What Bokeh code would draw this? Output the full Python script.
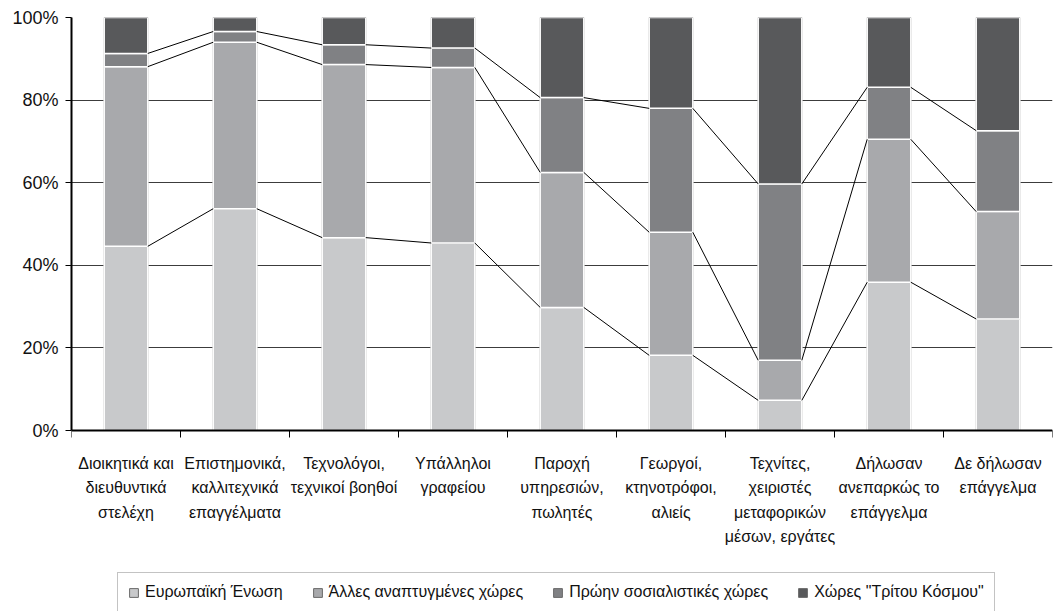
from bokeh.plotting import figure
from bokeh.models import Range1d, FixedTicker, PrintfTickFormatter, Legend, LegendItem, ColumnDataSource, Grid
from bokeh.core.properties import value
from bokeh.embed import file_html
from bokeh.resources import INLINE

categories = [
    "Διοικητικά και\nδιευθυντικά\nστελέχη",
    "Επιστημονικά,\nκαλλιτεχνικά\nεπαγγέλματα",
    "Τεχνολόγοι,\nτεχνικοί βοηθοί",
    "Υπάλληλοι\nγραφείου",
    "Παροχή\nυπηρεσιών,\nπωλητές",
    "Γεωργοί,\nκτηνοτρόφοι,\nαλιείς",
    "Τεχνίτες,\nχειριστές\nμεταφορικών\nμέσων, εργάτες",
    "Δήλωσαν\nανεπαρκώς το\nεπάγγελμα",
    "Δε δήλωσαν\nεπάγγελμα",
]
series_names = ["Ευρωπαϊκή Ένωση", "Άλλες αναπτυγμένες χώρες",
                "Πρώην σοσιαλιστικές χώρες", "Χώρες \"Τρίτου Κόσμου\""]
eu = [44.6, 53.7, 46.7, 45.4, 29.8, 18.2, 7.3, 35.9, 27.0]
other = [43.5, 40.3, 41.9, 42.5, 32.7, 29.8, 9.7, 34.6, 26.0]
socialist = [3.2, 2.6, 4.8, 4.7, 18.1, 30.0, 42.7, 12.6, 19.6]
third = [8.7, 3.4, 6.6, 7.4, 19.4, 22.0, 40.3, 16.9, 27.4]
y_ticks = [0, 20, 40, 60, 80, 100]

colors = ["#c8c9cb", "#a8a9ac", "#808184", "#58595b"]
FONT = "Liberation Sans"
BAR_W = 0.4

# layout (pixels): plot area 0..100% spans 413 px, with 181 px below it for labels/legend
PLOT_PX = 413
BELOW_PX = 181
y_min = -100.0 * BELOW_PX / PLOT_PX

n = len(categories)
xs = [i + 0.5 for i in range(n)]
series = [eu, other, socialist, third]
bottoms = [[0.0] * n]
for s in series:
    bottoms.append([b + v for b, v in zip(bottoms[-1], s)])

p = figure(width=1053, height=611, output_backend="svg", toolbar_location=None,
           x_range=Range1d(0, n), y_range=Range1d(y_min, 100),
           min_border_left=71, min_border_top=17, min_border_right=1,
           min_border_bottom=0,
           frame_width=981, frame_height=PLOT_PX + BELOW_PX)
p.outline_line_color = None
p.background_fill_color = "white"
p.border_fill_color = "white"

# gridlines
p.xgrid.visible = False
p.ygrid.ticker = FixedTicker(ticks=y_ticks)
p.ygrid.grid_line_color = "#3c3c3c"
p.ygrid.grid_line_width = 1
p.add_layout(Grid(dimension=1, ticker=FixedTicker(ticks=[y_ticks[-1]]),
                  grid_line_color="#222222", grid_line_width=2))

# bars (a gray-outlined copy underneath provides the legend swatches)
legend_items = []
for k, s in enumerate(series):
    src = ColumnDataSource(dict(x=xs, bottom=bottoms[k], top=bottoms[k + 1]))
    swatch = p.vbar(x="x", bottom="bottom", top="top", width=BAR_W, source=src,
                    fill_color=colors[k], line_color="#6a6a6a", line_width=1)
    p.vbar(x="x", bottom="bottom", top="top", width=BAR_W, source=src,
           fill_color=colors[k], line_color="white", line_width=1.5)
    legend_items.append(LegendItem(label=series_names[k], renderers=[swatch]))

# series lines
for k in range(1, 4):
    cum = bottoms[k]
    p.segment(x0=[x + BAR_W / 2 for x in xs[:-1]], y0=cum[:-1],
              x1=[x - BAR_W / 2 for x in xs[1:]], y1=cum[1:],
              line_color="black", line_width=1)

# y axis
ya = p.yaxis[0]
ya.ticker = FixedTicker(ticks=y_ticks)
ya.bounds = (0, 100)
ya.formatter = PrintfTickFormatter(format="%d%%")
ya.axis_line_width = 2
ya.axis_line_color = "black"
ya.major_tick_in = 0
ya.major_tick_out = 6
ya.major_tick_line_color = "black"
ya.minor_tick_line_color = None
ya.major_label_text_font = FONT
ya.major_label_text_font_size = "18px"
ya.major_label_text_color = "#111111"
ya.major_label_standoff = 7

# x axis, drawn at y = 0
xa = p.xaxis[0]
xa.fixed_location = 0
xa.ticker = FixedTicker(ticks=xs, minor_ticks=list(range(n + 1)))
xa.major_label_overrides = {x: c for x, c in zip(xs, categories)}
xa.axis_line_width = 2
xa.axis_line_color = "black"
xa.major_tick_in = 0
xa.major_tick_out = 0
xa.minor_tick_in = 0
xa.minor_tick_out = 7
xa.minor_tick_line_color = "black"
xa.major_label_text_font = FONT
xa.major_label_text_font_size = "16px"
xa.major_label_text_color = "#111111"
xa.major_label_text_line_height = 1.45
xa.major_label_standoff = 17

legend = Legend(items=legend_items, orientation="horizontal", location=(46, -1),
                label_text_font=FONT, label_text_font_size="16px",
                label_text_color="#111111",
                glyph_width=11, glyph_height=11, label_standoff=6, spacing=29,
                padding=10, margin=0,
                border_line_color="#888888", border_line_width=1.2)
p.add_layout(legend)

open("out.html", "w").write(file_html(p, INLINE))
